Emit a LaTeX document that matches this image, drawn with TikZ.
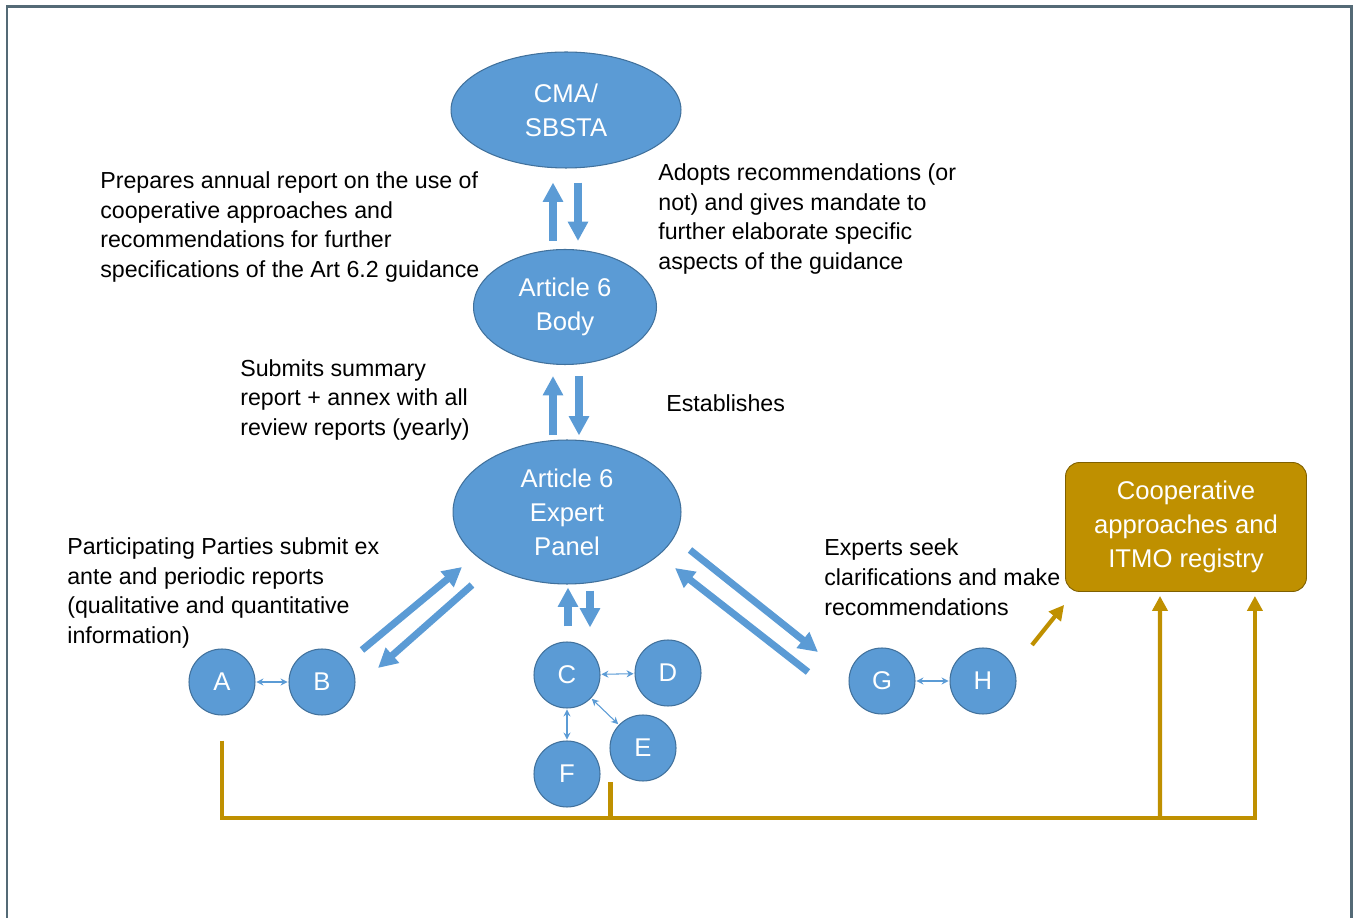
\documentclass[tikz,border=0pt]{standalone}
\usepackage{fontspec}
\setmainfont{Liberation Sans}
\usetikzlibrary{arrows.meta,positioning,calc,shapes.geometric}
\definecolor{ablue}{HTML}{5B9BD5}
\definecolor{abluedk}{HTML}{41719C}
\definecolor{agold}{HTML}{BF9000}
\definecolor{agolddk}{HTML}{7F6000}
\definecolor{aframe}{HTML}{546A76}
\tikzset{
  oval/.style={ellipse,fill=ablue,draw=abluedk,line width=0.6pt,text=white,align=center,inner sep=0pt,font=\fontsize{14.6}{19.3}\selectfont},
  party/.style={circle,fill=ablue,draw=abluedk,line width=0.6pt,text=white,inner sep=0pt,minimum size=1.32cm,font=\fontsize{14.6}{19.3}\selectfont},
  regbox/.style={fill=agold,draw=agolddk,line width=0.5pt,rounded corners=0.28cm,text=white,align=center,inner sep=0pt,minimum width=4.82cm,minimum height=2.58cm,font=\fontsize{14.6}{19.3}\selectfont},
  note/.style={anchor=west,align=left,inner sep=0pt,font=\fontsize{13.2}{17}\selectfont},
  fat/.style={-{Triangle[width=11pt,length=11pt]},line width=4pt,draw=ablue},
  link/.style={{Stealth[length=4pt,width=4pt]}-{Stealth[length=4pt,width=4pt]},line width=0.6pt,draw=ablue,shorten <=0.5pt,shorten >=0.5pt},
  gline/.style={line width=2.4pt,draw=agold},
  garr/.style={-{Triangle[width=8.5pt,length=8.5pt]},line width=2.4pt,draw=agold},
}
\begin{document}
\begin{tikzpicture}[x=0.02cm,y=-0.02cm,line join=miter]
  \useasboundingbox (0,0) rectangle (1356,918);
  \draw[aframe,line width=1.7pt] (7,918) -- (7,7) -- (1351,7) -- (1351,918);
  % bodies
  \node[oval,minimum width=4.6cm,minimum height=2.32cm] (cma) at (566,110) {CMA/\\SBSTA};
  \node[oval,minimum width=3.66cm,minimum height=2.3cm] (body) at (565,307) {Article 6\\Body};
  \node[oval,minimum width=4.56cm,minimum height=2.88cm] (panel) at (567,512) {Article 6\\Expert\\Panel};
  \node[regbox] (reg) at (1186,527) {Cooperative\\approaches and\\ITMO registry};
  % parties and experts
  \node[party] (A) at (222,682) {A};
  \node[party] (B) at (322,682) {B};
  \node[party] (C) at (567,675) {C};
  \node[party] (D) at (668,673) {D};
  \node[party] (E) at (643,748) {E};
  \node[party] (F) at (567,774) {F};
  \node[party] (G) at (882,681) {G};
  \node[party] (H) at (983,681) {H};
  \draw[link] (A) -- (B);
  \draw[link] (C) -- (D);
  \draw[link] (C) -- (E);
  \draw[link] (C) -- (F);
  \draw[link] (G) -- (H);
  % texts
  \node[note] (prep) at (100,227) {Prepares annual report on the use of\\cooperative approaches and\\recommendations for further\\specifications of the Art 6.2 guidance};
  \node[note] (adopt) at (658,219) {Adopts recommendations (or\\not) and gives mandate to\\further elaborate specific\\aspects of the guidance};
  \node[note] (subm) at (240,400) {Submits summary\\report + annex with all\\review reports (yearly)};
  \node[note] (est) at (666,403) {Establishes};
  \node[note] (subex) at (67,593) {Participating Parties submit ex\\ante and periodic reports\\(qualitative and quantitative\\information)};
  \node[note] (seek) at (824,577) {Experts seek\\clarifications and make\\recommendations};
  % blue flows
  \draw[fat] ($(body.north)+(-12,-8)$) -- ($(cma.south)+(-13,14)$);
  \draw[fat] ($(cma.south)+(12,14)$) -- ($(body.north)+(13,-8)$);
  \draw[fat] ($(panel.north)+(-14,-4)$) -- ($(body.south)+(-12,11)$);
  \draw[fat] ($(body.south)+(14,11)$) -- ($(panel.north)+(12,-4)$);
  \draw[fat] ($(C.north)+(1,-15)$) -- ($(panel.south)+(1,3)$);
  \draw[fat] ($(panel.south)+(23,6)$) -- ($(C.north)+(23,-14)$);
  \draw[fat] ($(B)+(40,-32)$) -- ($(panel)+(-105,55)$);
  \draw[fat] ($(panel)+(-95,73)$) -- ($(B)+(56,-14)$);
  \draw[fat] ($(panel)+(123,38)$) -- ($(G)+(-64,-29)$);
  \draw[fat] ($(G)+(-74,-9)$) -- ($(panel)+(108,56)$);
  % registry links
  \coordinate (busR) at ($(reg.south east)+(-52,226)$);
  \draw[garr] ($(H)+(49,-36)$) -- ($(reg.south west)+(-1,13)$);
  \draw[garr] ($(A.south)+(0,25)$) |- (busR) -- ($(reg.south east)+(-52,4)$);
  \draw[garr] ($(busR)+(-95,0)$) -- ($(reg.south)+(-26,4)$);
  \draw[gline] ($(F.east)+(10,8)$) -- ($(F.east)+(10,44)$);
\end{tikzpicture}
\end{document}
